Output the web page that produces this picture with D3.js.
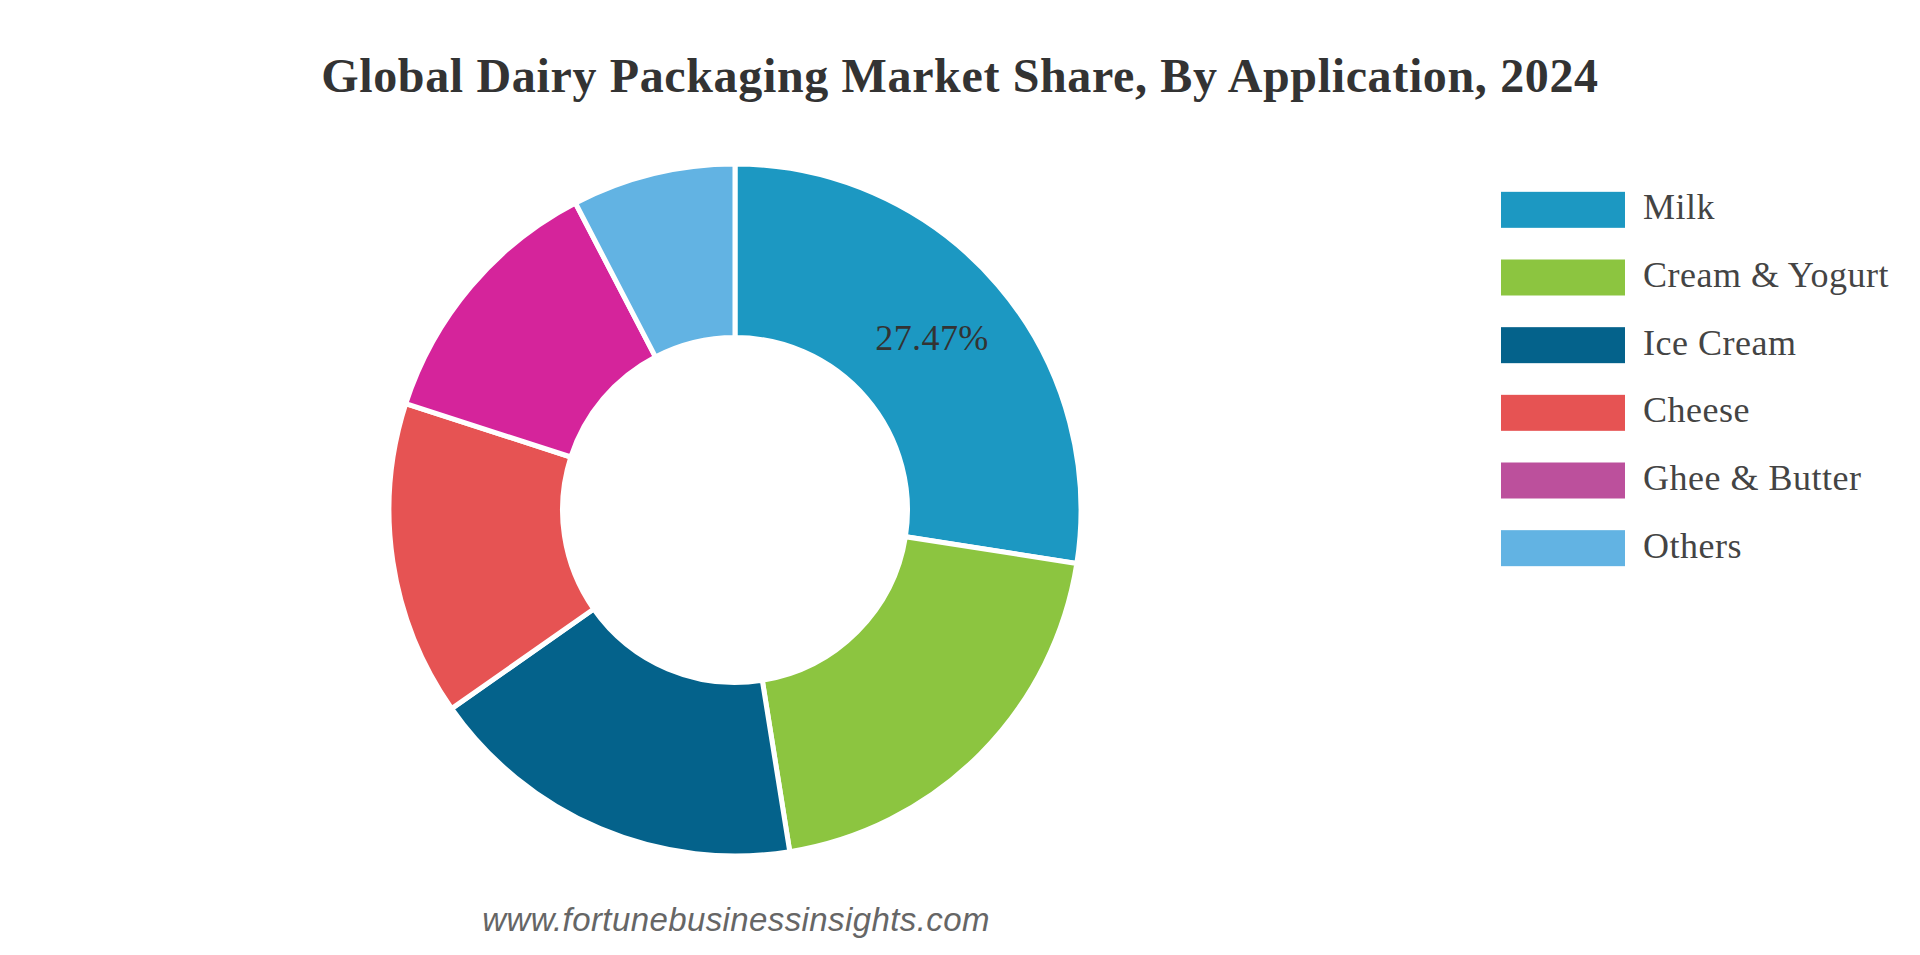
<!DOCTYPE html>
<html>
<head>
<meta charset="utf-8">
<title>Global Dairy Packaging Market Share</title>
<script src="https://d3js.org/d3.v7.min.js"></script>
<style>
  html, body { margin: 0; padding: 0; background: #fff; overflow: hidden; }
  svg { display: block; }
  text { font-family: "Liberation Serif", serif; fill: #333; }
</style>
</head>
<body>
<div id="chart"></div>
<script>
const categories = ['Milk', 'Cream & Yogurt', 'Ice Cream', 'Cheese', 'Ghee & Butter', 'Others'];
const shares = [27.47, 20, 17.8, 14.7, 12.4, 7.63];
const sliceColors = ['#1c98c2', '#8cc540', '#04628b', '#e65353', '#d5249b', '#62b3e3'];
const legendColors = ['#1c98c2', '#8cc540', '#04628b', '#e65353', '#bc509c', '#62b3e3'];
const labelled = ['Milk'];

const width = 1920, height = 955;
const cx = 735, cy = 510, outerR = 346, innerR = 172.5;

const svg = d3.select('#chart').append('svg')
  .attr('width', width)
  .attr('height', height)
  .attr('viewBox', `0 0 ${width} ${height}`);

svg.append('text')
  .attr('x', 960).attr('y', 92)
  .style('text-anchor', 'middle')
  .style('font-size', '48px')
  .style('letter-spacing', '0.65px')
  .style('font-weight', 'bold')
  .text('Global Dairy Packaging Market Share, By Application, 2024');

const color = d3.scaleOrdinal().domain(categories).range(sliceColors);
const pie = d3.pie().value(d => d.share).sort(null);
const arc = d3.arc().innerRadius(innerR).outerRadius(outerR);
const data = categories.map((name, i) => ({ name, share: shares[i] }));

const donut = svg.append('g').attr('transform', `translate(${cx},${cy})`);

donut.selectAll('.slice')
  .data(pie(data))
  .join('path')
  .attr('class', 'slice')
  .attr('d', arc)
  .attr('fill', d => color(d.data.name))
  .attr('stroke', '#fff')
  .attr('stroke-width', 5);

donut.selectAll('.value')
  .data(pie(data).filter(d => labelled.includes(d.data.name)))
  .join('text')
  .attr('class', 'value')
  .attr('transform', d => `translate(${arc.centroid(d)})`)
  .attr('dy', '0.25em')
  .style('text-anchor', 'middle')
  .style('font-size', '36px')
  .style('letter-spacing', '0.4px')
  .text(d => d.data.share.toFixed(2) + '%');

// legend rows sit on a band scale so the spacing stays even
const legendY = d3.scaleBand().domain(categories).range([176, 582]);
const legendColor = d3.scaleOrdinal().domain(categories).range(legendColors);

const legend = svg.selectAll('.legend')
  .data(categories)
  .join('g')
  .attr('class', 'legend')
  .attr('transform', d => `translate(1501,${legendY(d)})`);

legend.append('rect')
  .attr('y', legendY.bandwidth() / 2 - 18)
  .attr('width', 124)
  .attr('height', 36)
  .attr('fill', d => legendColor(d));

legend.append('text')
  .attr('x', 142)
  .attr('y', legendY.bandwidth() / 2 - 3)
  .attr('dy', '0.35em')
  .style('font-size', '36px')
  .style('letter-spacing', '0.5px')
  .style('fill', '#444')
  .text(d => d);

svg.append('text')
  .attr('x', 736).attr('y', 931)
  .style('text-anchor', 'middle')
  .style('font-family', '"Liberation Sans", sans-serif')
  .style('font-style', 'italic')
  .style('font-size', '33px')
  .style('letter-spacing', '0.4px')
  .style('fill', '#666')
  .text('www.fortunebusinessinsights.com');
</script>
</body>
</html>
